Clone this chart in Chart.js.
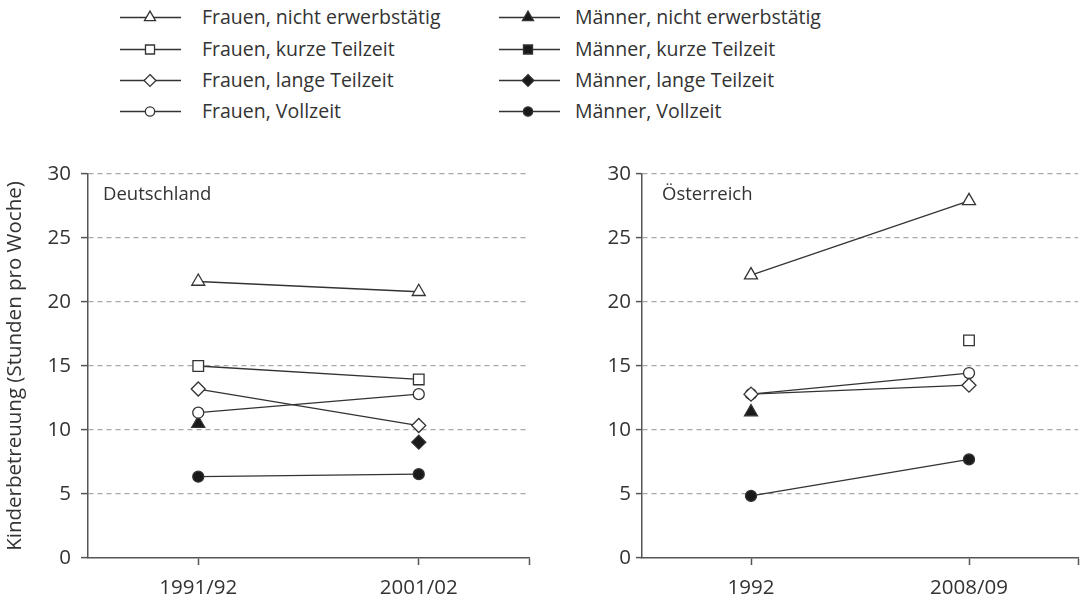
<!DOCTYPE html>
<html>
<head>
<meta charset="utf-8">
<script src="https://cdn.jsdelivr.net/npm/chart.js@4.4.1/dist/chart.umd.min.js"></script>
<style>
  body { margin:0; background:#fff; width:1089px; height:604px; position:relative; overflow:hidden; font-family:"Open Sans", sans-serif; color:#333; }
  .panel { position:absolute; top:150px; height:454px; }
  .item { position:absolute; height:24px; }
  .item canvas { position:absolute; left:0; top:0; }
  .item span { position:absolute; top:0; line-height:24px; font-size:19.5px; white-space:nowrap; color:#333; }
</style>
</head>
<body>
<div id="legend"></div>
<div class="panel" style="left:0;width:545px"><canvas id="de"></canvas></div>
<div class="panel" style="left:545px;width:544px"><canvas id="at"></canvas></div>
<script>
// Kinderbetreuung (Stunden pro Woche) nach Erwerbsstatus
const groups = [
  'Frauen, nicht erwerbstätig', 'Frauen, kurze Teilzeit', 'Frauen, lange Teilzeit', 'Frauen, Vollzeit',
  'Männer, nicht erwerbstätig', 'Männer, kurze Teilzeit', 'Männer, lange Teilzeit', 'Männer, Vollzeit'
];
const deYears = ['1991/92', '2001/02'];
const atYears = ['1992', '2008/09'];
// values per year, same order as groups (null = kein Wert)
const de1991 = [21.6, 15.0, 13.2, 11.35, 10.5, null, null, 6.35];
const de2001 = [20.8, 13.95, 10.35, 12.8, null, null, 9.05, 6.55];
const at1992 = [22.1, null, 12.8, 12.8, 11.4, null, null, 4.85];
const at2008 = [27.9, 17.0, 13.5, 14.45, null, null, null, 7.7];
const yTicks = [0, 5, 10, 15, 20, 25, 30];

// marker styles
const pointStyles = ['triangle', 'rect', 'rectRot', 'circle', 'triangle', 'rect', 'rectRot', 'circle'];
const pointSizes = [7.5, 7.5, 7, 5.5, 7.5, 7.5, 7, 5.5];
const filled = [false, false, false, false, true, true, true, true];
const ink = '#333';
const fillDark = '#1a1a1a';

function drawMarker(ctx, style, r, x, y, solid) {
  ctx.beginPath();
  if (style === 'triangle') {
    ctx.moveTo(x, y - r);
    ctx.lineTo(x + Math.sin(2 * Math.PI / 3) * r, y + r / 2);
    ctx.lineTo(x - Math.sin(2 * Math.PI / 3) * r, y + r / 2);
    ctx.closePath();
  } else if (style === 'rect') {
    const s = r * Math.SQRT1_2;
    ctx.rect(x - s, y - s, 2 * s, 2 * s);
  } else if (style === 'rectRot') {
    ctx.moveTo(x, y - r); ctx.lineTo(x + r, y); ctx.lineTo(x, y + r); ctx.lineTo(x - r, y);
    ctx.closePath();
  } else {
    ctx.arc(x, y, r, 0, Math.PI * 2);
  }
  ctx.fillStyle = solid ? fillDark : '#fff';
  ctx.fill();
  ctx.lineWidth = 1.3; ctx.strokeStyle = ink;
  ctx.stroke();
}

// legend: two columns, Frauen left, Männer right
const legendRows = [17, 49, 80, 111];
const legendCols = [{ left: 120, mark: 30, text: 82 }, { left: 499, mark: 29, text: 76 }];
const legend = document.getElementById('legend');
groups.forEach((g, i) => {
  const col = legendCols[i < 4 ? 0 : 1];
  const item = document.createElement('div');
  item.className = 'item';
  item.style.left = col.left + 'px';
  item.style.top = (legendRows[i % 4] - 12) + 'px';
  const c = document.createElement('canvas');
  c.width = 62; c.height = 24;
  const ctx = c.getContext('2d');
  ctx.strokeStyle = ink; ctx.lineWidth = 1.4;
  ctx.beginPath(); ctx.moveTo(0, 12.5); ctx.lineTo(61, 12.5); ctx.stroke();
  drawMarker(ctx, pointStyles[i], pointSizes[i] * 0.85, col.mark, 12.5, filled[i]);
  const t = document.createElement('span');
  t.style.left = col.text + 'px';
  t.textContent = g;
  item.appendChild(c); item.appendChild(t);
  legend.appendChild(item);
});

const panelLabel = {
  id: 'panelLabel',
  afterDraw(chart, args, opts) {
    const { ctx, chartArea } = chart;
    ctx.save();
    ctx.font = '18.5px "Open Sans"';
    ctx.fillStyle = ink;
    ctx.textBaseline = 'middle';
    ctx.fillText(opts.text, chartArea.left + opts.dx, chartArea.top + 21);
    ctx.restore();
  }
};

function makeChart(id, years, first, second, o) {
  const datasets = groups.map((g, i) => ({
    label: g,
    data: [{ x: 0, y: first[i] }, { x: 1, y: second[i] }],
    borderColor: ink,
    borderWidth: 1.3,
    pointStyle: pointStyles[i],
    pointRadius: pointSizes[i],
    pointBackgroundColor: filled[i] ? fillDark : '#fff',
    pointBorderColor: ink,
    pointBorderWidth: 1.3,
    spanGaps: false,
    tension: 0
  }));
  return new Chart(document.getElementById(id), {
    type: 'line',
    data: { datasets },
    plugins: [panelLabel],
    options: {
      responsive: true,
      maintainAspectRatio: false,
      animation: false,
      events: [],
      layout: { padding: { top: 24, right: o.padRight, bottom: 0, left: 0 } },
      plugins: {
        legend: { display: false },
        tooltip: { enabled: false },
        panelLabel: { text: o.label, dx: o.labelDx }
      },
      scales: {
        x: {
          type: 'linear',
          min: -0.5,
          max: 1.5,
          afterBuildTicks: s => { s.ticks = [0, 1, 1.5].map(v => ({ value: v })); },
          afterFit: s => { s.height = 46; },
          ticks: {
            autoSkip: false,
            maxRotation: 0,
            padding: 11,
            color: ink,
            font: { family: 'Open Sans', size: 20.5 },
            callback: v => (v === 0 || v === 1) ? years[v] : ''
          },
          grid: { drawOnChartArea: false, tickLength: 7, tickColor: '#555', tickWidth: 1.5 },
          border: { color: '#555', width: 1.5 }
        },
        y: {
          min: 0,
          max: 30,
          afterBuildTicks: s => { s.ticks = yTicks.map(v => ({ value: v })); },
          afterFit: s => { s.width = o.yWidth; },
          ticks: { padding: o.tickPad, color: ink, font: { family: 'Open Sans', size: 20.5 } },
          grid: {
            color: c => c.tick && c.tick.value === 0 ? 'rgba(0,0,0,0)' : '#a8a8a8',
            lineWidth: 1.2,
            tickLength: o.tickLen,
            tickColor: '#555',
            tickWidth: 1.5
          },
          border: { color: '#555', width: 1.5, dash: [5, 4] },
          title: {
            display: o.title,
            text: 'Kinderbetreuung (Stunden pro Woche)',
            color: ink,
            font: { family: 'Open Sans', size: 20.5 },
            padding: { top: 3, bottom: 0 }
          }
        }
      }
    }
  });
}

makeChart('de', deYears, de1991, de2001, { padRight: 16, yWidth: 88, tickPad: 10, tickLen: 7, title: true, label: 'Deutschland', labelDx: 15 });
makeChart('at', atYears, at1992, at2008, { padRight: 6, yWidth: 97, tickPad: 5, tickLen: 6, title: false, label: 'Österreich', labelDx: 20 });
</script>
</body>
</html>
